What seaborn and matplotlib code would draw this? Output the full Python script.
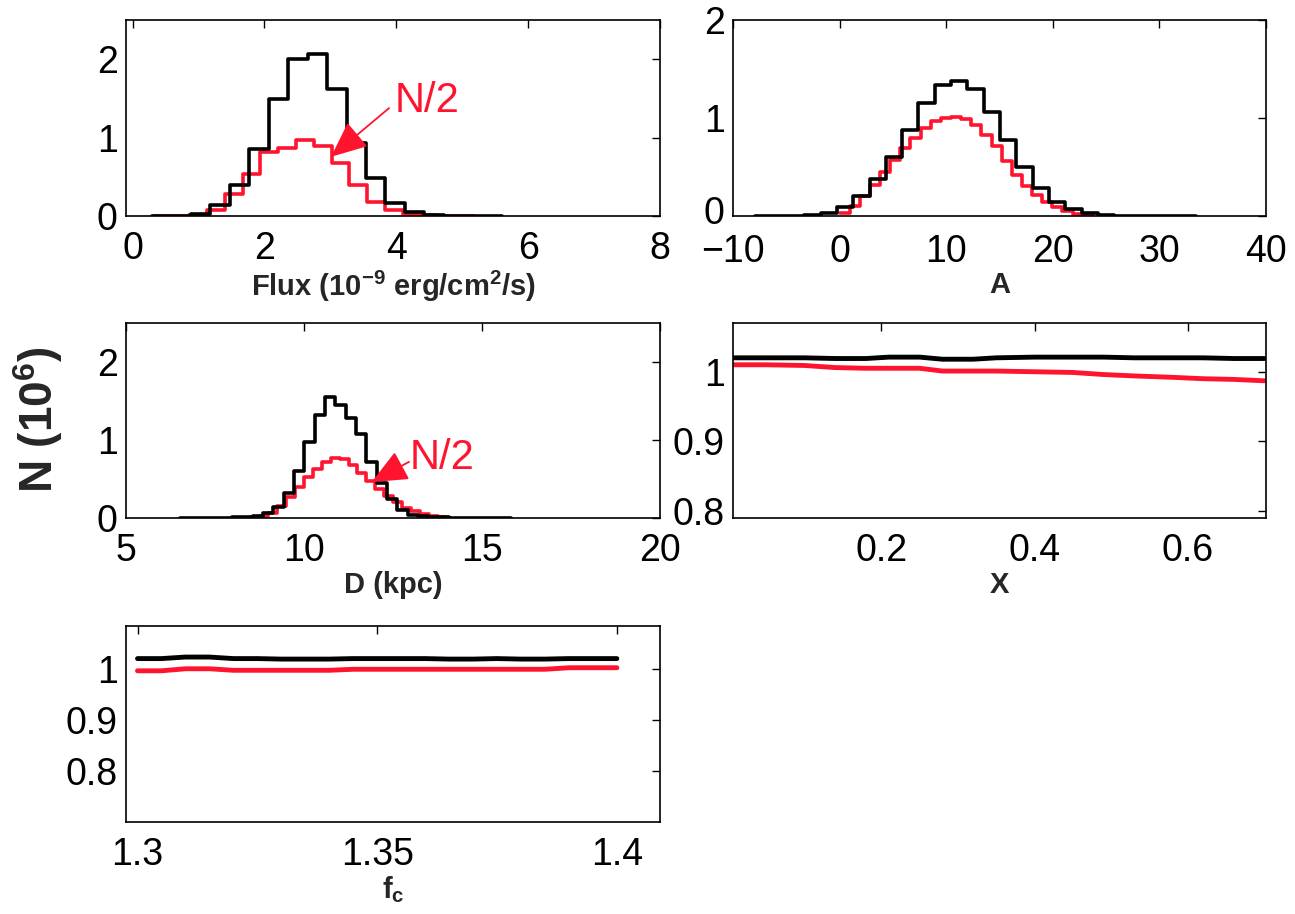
import numpy as np
import pandas as pd
import matplotlib
matplotlib.use("Agg")
import matplotlib.pyplot as plt
import matplotlib.transforms as mtransforms
import seaborn as sns

# ---------------- data (units of 10^6) ----------------
flux_black_edges = [0.295, 0.59, 0.885, 1.18, 1.475, 1.77, 2.065, 2.36, 2.655, 2.95,
                    3.245, 3.54, 3.835, 4.13, 4.425, 4.72, 5.015, 5.31, 5.605]
flux_black_counts = [0.002, 0.006, 0.03, 0.14, 0.39, 0.86, 1.49, 2.00, 2.06, 1.62,
                     0.93, 0.49, 0.17, 0.055, 0.018, 0.006, 0.002, 0.001]
flux_red_edges = [0.32, 0.59, 0.86, 1.13, 1.40, 1.67, 1.94, 2.21, 2.48, 2.75,
                  3.02, 3.29, 3.56, 3.83, 4.10, 4.37, 4.64, 4.91, 5.18]
flux_red_counts = [0.001, 0.003, 0.012, 0.076, 0.28, 0.54, 0.81, 0.87, 0.97, 0.89,
                   0.67, 0.40, 0.18, 0.08, 0.03, 0.008, 0.002, 0.001]

a_black_edges = [-7.90, -6.37, -4.84, -3.31, -1.78, -0.25, 1.28, 2.81, 4.34, 5.87,
                 7.40, 8.93, 10.46, 11.99, 13.52, 15.05, 16.58, 18.11, 19.64, 21.17,
                 22.70, 24.23, 25.76, 27.29, 28.82, 30.35, 31.88, 33.41]
a_black_counts = [0.0003, 0.001, 0.004, 0.012, 0.035, 0.095, 0.20, 0.38, 0.60, 0.88,
                  1.15, 1.34, 1.38, 1.30, 1.06, 0.78, 0.50, 0.29, 0.146, 0.07,
                  0.03, 0.012, 0.005, 0.002, 0.001, 0.0005, 0.0002]
a_red_edges = [0.0, 0.95, 1.9, 2.85, 3.8, 4.75, 5.7, 6.65, 7.6, 8.55, 9.5, 10.45,
               11.4, 12.35, 13.3, 14.25, 15.2, 16.15, 17.1, 18.05, 19.0, 19.95,
               20.9, 21.85, 22.8, 23.75]
a_red_counts = [0.03, 0.10, 0.20, 0.32, 0.45, 0.57, 0.69, 0.80, 0.90, 0.97, 1.00,
                1.01, 0.99, 0.93, 0.83, 0.71, 0.56, 0.42, 0.31, 0.21, 0.14, 0.09,
                0.05, 0.025, 0.01]

d_black_edges = [6.53, 6.82, 7.11, 7.40, 7.69, 7.98, 8.27, 8.56, 8.85, 9.14, 9.43,
                 9.72, 10.01, 10.30, 10.59, 10.88, 11.17, 11.46, 11.75, 12.04, 12.33,
                 12.62, 12.91, 13.20, 13.49, 13.78, 14.07, 14.36, 14.65, 14.94, 15.23,
                 15.52, 15.81]
d_black_counts = [0.001, 0.001, 0.002, 0.003, 0.005, 0.008, 0.012, 0.025, 0.06, 0.145,
                  0.32, 0.60, 0.98, 1.32, 1.55, 1.45, 1.28, 1.08, 0.72, 0.45, 0.24,
                  0.10, 0.04, 0.02, 0.012, 0.008, 0.005, 0.003, 0.002, 0.001, 0.001,
                  0.0005]
d_red_edges = [8.5, 8.75, 9.0, 9.25, 9.5, 9.75, 10.0, 10.25, 10.5, 10.75, 11.0, 11.25,
               11.5, 11.75, 12.0, 12.25, 12.5, 12.75, 13.0, 13.25, 13.5, 13.75, 14.0]
d_red_counts = [0.01, 0.03, 0.06, 0.15, 0.27, 0.40, 0.52, 0.63, 0.72, 0.77, 0.75, 0.68,
                0.58, 0.47, 0.37, 0.28, 0.20, 0.13, 0.09, 0.05, 0.03, 0.01]

x_vals = [0.005, 0.05, 0.10, 0.14, 0.18, 0.21, 0.25, 0.28, 0.32, 0.35, 0.40, 0.45,
          0.49, 0.53, 0.58, 0.62, 0.66, 0.70]
x_black = [1.020, 1.020, 1.020, 1.019, 1.019, 1.021, 1.021, 1.018, 1.018, 1.020,
           1.021, 1.021, 1.021, 1.020, 1.020, 1.020, 1.019, 1.019]
x_red = [1.010, 1.010, 1.009, 1.006, 1.005, 1.005, 1.005, 1.001, 1.001, 1.001,
         1.000, 0.999, 0.996, 0.994, 0.992, 0.990, 0.989, 0.987]

fc_vals = [1.300, 1.305, 1.310, 1.315, 1.320, 1.325, 1.330, 1.335, 1.340, 1.345,
           1.350, 1.355, 1.360, 1.365, 1.370, 1.375, 1.380, 1.385, 1.390, 1.395, 1.400]
fc_black = [1.021, 1.021, 1.024, 1.024, 1.021, 1.021, 1.020, 1.020, 1.020, 1.021,
            1.021, 1.021, 1.021, 1.020, 1.020, 1.021, 1.020, 1.020, 1.021, 1.021, 1.021]
fc_red = [0.997, 0.997, 1.001, 1.001, 0.998, 0.998, 0.998, 0.998, 0.998, 1.000,
          1.000, 1.000, 1.000, 1.000, 1.000, 1.000, 1.000, 1.000, 1.003, 1.003, 1.003]

# ---------------- style ----------------
sns.set_style("white")
plt.rcParams["font.family"] = ["Liberation Sans", "DejaVu Sans"]
plt.rcParams["mathtext.fontset"] = "custom"
plt.rcParams["mathtext.rm"] = "Liberation Sans"
plt.rcParams["mathtext.bf"] = "Liberation Sans:bold"
plt.rcParams["axes.unicode_minus"] = True

RED = "#ff1430"
BLACK = "black"
TICK_FS = 27
LABEL_FS = 21
HIST_LW = 2.6
LINE_LW = 3.5

W, H = 1295, 914
fig = plt.figure(figsize=(W / 100, H / 100), dpi=100)


def add_ax(l, r, t, b):
    return fig.add_axes([l / W, 1 - b / H, (r - l) / W, (b - t) / H])


ax1 = add_ax(126, 660, 20, 216)
ax2 = add_ax(733, 1266, 20, 216)
ax3 = add_ax(126, 660, 323, 518)
ax4 = add_ax(733, 1266, 323, 518)
ax5 = add_ax(126, 660, 626, 822)


def hist(ax, edges, counts, color):
    e = [float(v) for v in edges]
    centers = [(e[i] + e[i + 1]) / 2 for i in range(len(e) - 1)]
    df = pd.DataFrame({"c": centers, "w": [float(v) for v in counts]})
    sns.histplot(data=df, x="c", weights="w", bins=e, element="step", fill=False,
                 color=color, linewidth=HIST_LW, ax=ax)


hist(ax1, flux_red_edges, flux_red_counts, RED)
hist(ax1, flux_black_edges, flux_black_counts, BLACK)
hist(ax2, a_red_edges, a_red_counts, RED)
hist(ax2, a_black_edges, a_black_counts, BLACK)
hist(ax3, d_red_edges, d_red_counts, RED)
hist(ax3, d_black_edges, d_black_counts, BLACK)

sns.lineplot(x=x_vals, y=x_black, color=BLACK, linewidth=LINE_LW, ax=ax4)
sns.lineplot(x=x_vals, y=x_red, color=RED, linewidth=LINE_LW, ax=ax4)
sns.lineplot(x=fc_vals, y=fc_black, color=BLACK, linewidth=LINE_LW, ax=ax5)
sns.lineplot(x=fc_vals, y=fc_red, color=RED, linewidth=LINE_LW, ax=ax5)

# limits and ticks
ax1.set_xlim(-0.1, 8.0); ax1.set_ylim(0, 2.5)
ax1.set_xticks([0, 2, 4, 6, 8]); ax1.set_xticklabels(["0", "2", "4", "6", "8"])
ax1.set_yticks([0, 1, 2]); ax1.set_yticklabels(["0", "1", "2"])

ax2.set_xlim(-10, 40); ax2.set_ylim(0, 2)
ax2.set_xticks([-10, 0, 10, 20, 30, 40])
ax2.set_xticklabels(["\u221210", "0", "10", "20", "30", "40"])
ax2.set_yticks([0, 1, 2]); ax2.set_yticklabels(["0", "1", "2"])

ax3.set_xlim(5, 20); ax3.set_ylim(0, 2.5)
ax3.set_xticks([5, 10, 15, 20]); ax3.set_xticklabels(["5", "10", "15", "20"])
ax3.set_yticks([0, 1, 2]); ax3.set_yticklabels(["0", "1", "2"])

ax4.set_xlim(0.0066, 0.702); ax4.set_ylim(0.79, 1.07)
ax4.set_xticks([0.2, 0.4, 0.6]); ax4.set_xticklabels(["0.2", "0.4", "0.6"])
ax4.set_yticks([0.8, 0.9, 1.0]); ax4.set_yticklabels(["0.8", "0.9", "1"])

ax5.set_xlim(1.2976, 1.409); ax5.set_ylim(0.70, 1.085)
ax5.set_xticks([1.3, 1.35, 1.4]); ax5.set_xticklabels(["1.3", "1.35", "1.4"])
ax5.set_yticks([0.8, 0.9, 1.0]); ax5.set_yticklabels(["0.8", "0.9", "1"])

xlabels = [r"Flux (10$^{\mathbf{-9}}$ erg/cm$^{\mathbf{2}}$/s)", "A", "D (kpc)", "X",
           r"f$_{\mathbf{c}}$"]
for ax, lab in zip([ax1, ax2, ax3, ax4, ax5], xlabels):
    ax.set_ylabel("")
    ax.set_xlabel(lab, fontsize=LABEL_FS, fontweight="bold", labelpad=1)
    ax.tick_params(axis="both", direction="in", length=6, width=1, top=True,
                   right=True, labelsize=TICK_FS, colors="black")
    ax.tick_params(axis="x", pad=11)
    ax.tick_params(axis="y", pad=6)
    for s in ax.spines.values():
        s.set_visible(True)
        s.set_color("black")
        s.set_linewidth(1.2)

# keep the "0" of panel A's y axis clear of the "-10" below it
ax2.tick_params(axis="x", pad=13)
zero_lab = ax2.get_yticklabels()[0]
zero_lab.set_transform(zero_lab.get_transform() +
                       mtransforms.ScaledTranslation(0, 4 / 72, fig.dpi_scale_trans))

# N/2 annotations
ax1.annotate("", xy=(3.01, 0.755), xytext=(3.89, 1.376),
             arrowprops=dict(arrowstyle="-|>,head_length=0.75,head_width=0.33",
                             mutation_scale=30, color=RED, lw=1.3,
                             shrinkA=0, shrinkB=0))
ax1.text(3.97, 1.47, "N/2", color=RED, fontsize=30, ha="left", va="center")

ax3.annotate("", xy=(11.9, 0.46), xytext=(12.95, 0.72),
             arrowprops=dict(arrowstyle="-|>,head_length=0.75,head_width=0.33",
                             mutation_scale=30, color=RED, lw=1.3,
                             shrinkA=0, shrinkB=0))
ax3.text(12.98, 0.77, "N/2", color=RED, fontsize=30, ha="left", va="center")

fig.text(38 / W, 1 - 420 / H, r"N (10$^{\mathbf{6}}$)", rotation=90, fontsize=33,
         fontweight="bold", ha="center", va="center")

fig.savefig("out.png", dpi=100, facecolor="white")
